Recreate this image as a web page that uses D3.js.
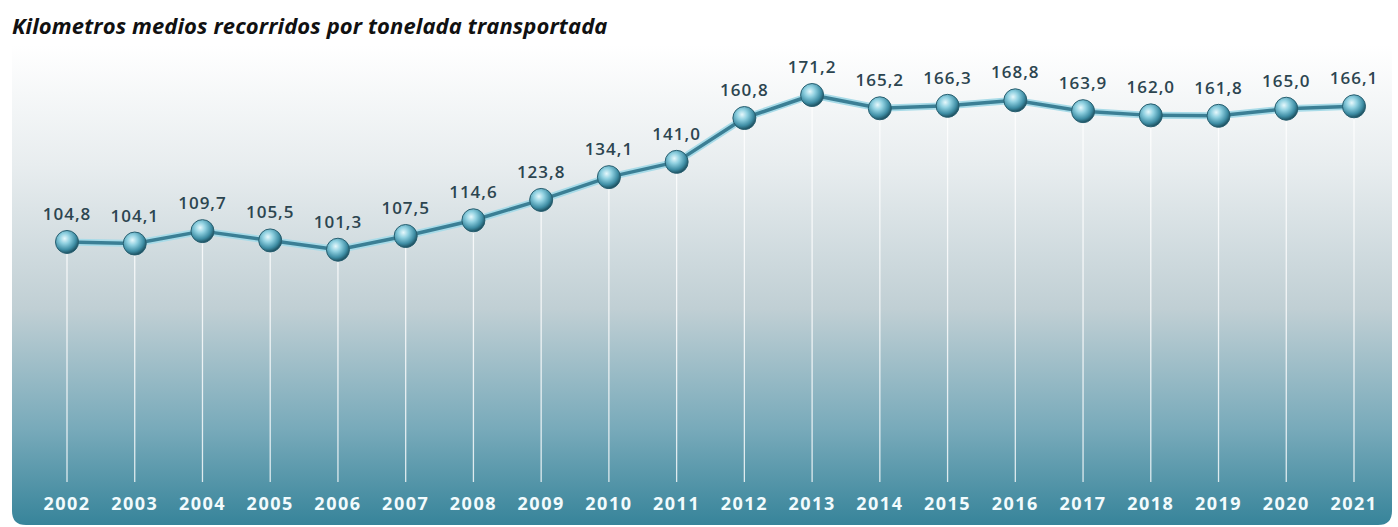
<!DOCTYPE html>
<html>
<head>
<meta charset="utf-8">
<script src="https://cdn.jsdelivr.net/npm/d3@7"></script>
<style>
  body { margin: 0; background: #ffffff; }
  svg { display: block; }
</style>
</head>
<body>
<script>
// chart size
var W = 1398;
var H = 527;

// data
var years = ["2002", "2003", "2004", "2005", "2006", "2007", "2008", "2009", "2010", "2011",
             "2012", "2013", "2014", "2015", "2016", "2017", "2018", "2019", "2020", "2021"];
var values = [104.8, 104.1, 109.7, 105.5, 101.3, 107.5, 114.6, 123.8, 134.1, 141.0,
              160.8, 171.2, 165.2, 166.3, 168.8, 163.9, 162.0, 161.8, 165.0, 166.1];
var title = "Kilometros medios recorridos por tonelada transportada";

function main() {
  var svg = d3.select("body").append("svg")
      .attr("width", W)
      .attr("height", H);

  var defs = svg.append("defs");

  // panel background gradient
  var bg = defs.append("linearGradient")
      .attr("id", "bg")
      .attr("x1", 0).attr("y1", 0).attr("x2", 0).attr("y2", 1);
  bg.append("stop").attr("offset", "0%").attr("stop-color", "#ffffff");
  bg.append("stop").attr("offset", "25%").attr("stop-color", "#e8edef");
  bg.append("stop").attr("offset", "55%").attr("stop-color", "#c0cfd4");
  bg.append("stop").attr("offset", "80%").attr("stop-color", "#78aaba");
  bg.append("stop").attr("offset", "100%").attr("stop-color", "#37849a");

  // sphere gradient for markers
  var ball = defs.append("radialGradient")
      .attr("id", "ball")
      .attr("cx", "40%").attr("cy", "35%").attr("r", "65%");
  ball.append("stop").attr("offset", "0%").attr("stop-color", "#e6f8fc");
  ball.append("stop").attr("offset", "35%").attr("stop-color", "#8fd0e0");
  ball.append("stop").attr("offset", "75%").attr("stop-color", "#3f8ea5");
  ball.append("stop").attr("offset", "100%").attr("stop-color", "#1d5161");

  // panel with rounded bottom corners
  var px0 = 12, px1 = 1392, py0 = 45, py1 = 525, r = 14;
  svg.append("path")
      .attr("d", "M" + px0 + "," + py0 + " L" + px1 + "," + py0 +
                 " L" + px1 + "," + (py1 - r) + " Q" + px1 + "," + py1 + " " + (px1 - r) + "," + py1 +
                 " L" + (px0 + r) + "," + py1 + " Q" + px0 + "," + py1 + " " + px0 + "," + (py1 - r) + " Z")
      .attr("fill", "url(#bg)");

  // title
  svg.append("text")
      .attr("x", 12)
      .attr("y", 34)
      .attr("font-family", "'Open Sans', sans-serif")
      .attr("font-style", "italic")
      .attr("font-weight", "bold")
      .attr("font-size", "22px")
      .attr("letter-spacing", "0.1px")
      .attr("fill", "#111")
      .text(title);

  // scales
  var xScale = d3.scalePoint()
      .domain(years)
      .range([67, 1354]);
  var yScale = d3.scaleLinear()
      .domain([100, 175])
      .range([252.6, 86.6]);

  var data = years.map(function(y, i) { return { year: y, value: values[i] }; });

  // vertical guide lines
  svg.selectAll("line.guide")
      .data(data)
      .enter()
      .append("line")
      .attr("class", "guide")
      .attr("x1", function(d) { return xScale(d.year); })
      .attr("x2", function(d) { return xScale(d.year); })
      .attr("y1", function(d) { return yScale(d.value); })
      .attr("y2", 482)
      .attr("stroke", "#ffffff")
      .attr("stroke-opacity", 0.8)
      .attr("stroke-width", 1.3);

  var line = d3.line()
      .x(function(d) { return xScale(d.year); })
      .y(function(d) { return yScale(d.value); });

  // glow under the line
  svg.append("path")
      .datum(data)
      .attr("d", line)
      .attr("fill", "none")
      .attr("stroke", "#a8dbe8")
      .attr("stroke-width", 7)
      .attr("stroke-linejoin", "round");
  svg.append("path")
      .datum(data)
      .attr("d", line)
      .attr("fill", "none")
      .attr("stroke", "#3b7f95")
      .attr("stroke-width", 3.5)
      .attr("stroke-linejoin", "round");

  // markers
  svg.selectAll("circle.dot")
      .data(data)
      .enter()
      .append("circle")
      .attr("class", "dot")
      .attr("cx", function(d) { return xScale(d.year); })
      .attr("cy", function(d) { return yScale(d.value); })
      .attr("r", 11.5)
      .attr("fill", "url(#ball)")
      .attr("stroke", "#285f70")
      .attr("stroke-width", 1);

  // value labels
  svg.selectAll("text.val")
      .data(data)
      .enter()
      .append("text")
      .attr("class", "val")
      .attr("x", function(d) { return xScale(d.year); })
      .attr("y", function(d) { return yScale(d.value) - 22; })
      .attr("text-anchor", "middle")
      .attr("font-family", "'Open Sans', sans-serif")
      .attr("font-weight", "600")
      .attr("font-size", "17px")
      .attr("letter-spacing", "1px")
      .attr("fill", "#2c4550")
      .text(function(d) { return d.value.toFixed(1).replace(".", ","); });

  // year labels
  svg.selectAll("text.year")
      .data(data)
      .enter()
      .append("text")
      .attr("class", "year")
      .attr("x", function(d) { return xScale(d.year); })
      .attr("y", 510)
      .attr("text-anchor", "middle")
      .attr("font-family", "'Open Sans', sans-serif")
      .attr("font-weight", "bold")
      .attr("font-size", "18px")
      .attr("letter-spacing", "1.5px")
      .attr("fill", "#f2fbfd")
      .text(function(d) { return d.year; });
}

main();
</script>
</body>
</html>
